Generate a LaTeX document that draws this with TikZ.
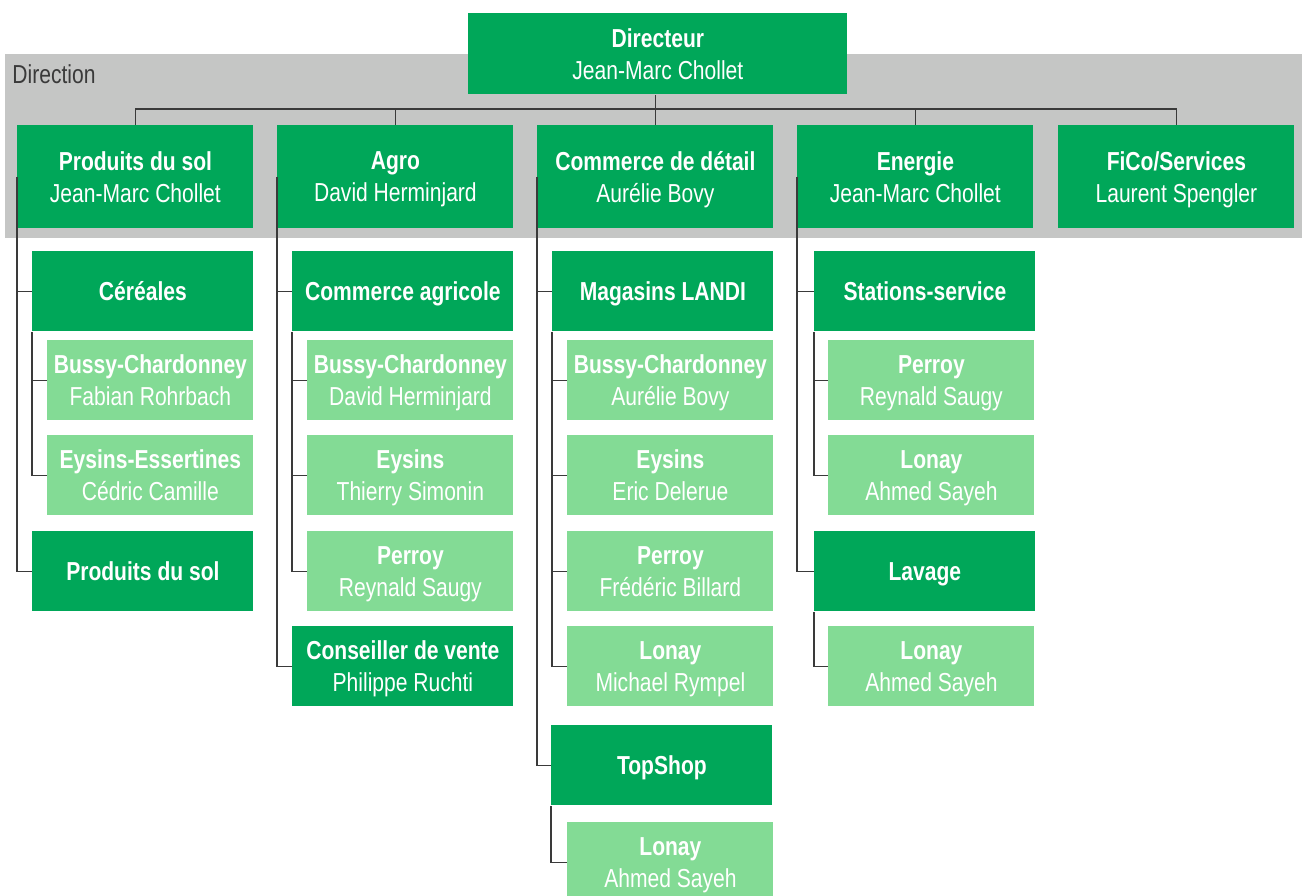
\documentclass[tikz,border=0pt]{standalone}
\usepackage{fontspec}
\setmainfont[FakeStretch=0.81]{Liberation Sans}
\usepackage{xcolor}
\definecolor{LandiGreen}{HTML}{00A759}
\definecolor{LandiLight}{HTML}{83DB95}
\definecolor{DirGray}{HTML}{C5C6C5}
\definecolor{LineGray}{HTML}{3A3A3A}
\usepackage{tikz}
\usetikzlibrary{positioning,calc}
\newcommand\orgtext[2]{\textbf{#1}\\#2}

\begin{document}
\begin{tikzpicture}[x=0.5pt,y=-0.5pt,
		orgbox/.style={fill=LandiGreen,text=white,inner sep=0,align=center,anchor=north west,text depth=0pt,font=\fontsize{13pt}{16pt}\selectfont},
		headbox/.style={orgbox,minimum width=118pt,minimum height=51.5pt},
		unitbox/.style={orgbox,minimum width=110.5pt,minimum height=40pt},
		sitebox/.style={orgbox,fill=LandiLight,minimum width=103pt,minimum height=40pt},
		link/.style={LineGray,line width=0.6pt}]
		
		\useasboundingbox (0,0) rectangle (1302,895);
		
		%% DIRECTION BAND
		\fill[DirGray] (5,54) rectangle (1302,238);
		\node[anchor=base west,inner sep=0,text=LineGray,font=\fontsize{13pt}{16pt}\selectfont] (dirlabel) at (12,83) {Direction};
		
		\node[orgbox,minimum width=189.5pt,minimum height=40.5pt] (dir) at (468,13) {\orgtext{Directeur}{Jean-Marc Chollet}};
		
		\node[headbox] (sol) at (17,125) {\orgtext{Produits du sol}{Jean-Marc Chollet}};
		\node[headbox] (agro) at (277,125) {\orgtext{Agro}{David Herminjard}};
		\node[headbox] (cdd) at (537,125) {\orgtext{Commerce de détail}{Aurélie Bovy}};
		\node[headbox] (energie) at (797,125) {\orgtext{Energie}{Jean-Marc Chollet}};
		\node[headbox] (fico) at (1058,125) {\orgtext{FiCo/Services}{Laurent Spengler}};
		
		\coordinate (bus) at (0,109);
		\draw[link] (dir.south -| cdd.north) -- (cdd.north);
		\foreach \dep in {sol,agro,cdd,energie,fico}{
			\draw[link] (cdd.north |- bus) -| (\dep.north);
		}
		
		%% PRODUITS DU SOL
		\node[unitbox] (cereales) at (32,251) {\textbf{Céréales}};
		\node[sitebox] (cerbussy) at (47,340) {\orgtext{Bussy-Chardonney}{Fabian Rohrbach}};
		\node[sitebox] (cereysins) at (47,435) {\orgtext{Eysins-Essertines}{Cédric Camille}};
		\node[unitbox] (solprod) at (32,531) {\textbf{Produits du sol}};
		
		\foreach \grp in {cereales,solprod}
			\draw[link] (sol.west) |- (\grp.west);
		\foreach \site in {cerbussy,cereysins}
			\draw[link] (cereales.south west) |- (\site.west);
		
		%% AGRO
		\node[unitbox] (comagri) at (292,251) {\textbf{Commerce agricole}};
		\node[sitebox] (agribussy) at (307,340) {\orgtext{Bussy-Chardonney}{David Herminjard}};
		\node[sitebox] (agrieysins) at (307,435) {\orgtext{Eysins}{Thierry Simonin}};
		\node[sitebox] (agriperroy) at (307,531) {\orgtext{Perroy}{Reynald Saugy}};
		\node[unitbox] (conseil) at (292,626) {\orgtext{Conseiller de vente}{Philippe Ruchti}};
		
		\foreach \grp in {comagri,conseil}
			\draw[link] (agro.west) |- (\grp.west);
		\foreach \site in {agribussy,agrieysins,agriperroy}
			\draw[link] (comagri.south west) |- (\site.west);
		
		%% COMMERCE DE DETAIL
		\node[unitbox] (landi) at (552,251) {\textbf{Magasins LANDI}};
		\node[sitebox] (landibussy) at (567,340) {\orgtext{Bussy-Chardonney}{Aurélie Bovy}};
		\node[sitebox] (landieysins) at (567,435) {\orgtext{Eysins}{Eric Delerue}};
		\node[sitebox] (landiperroy) at (567,531) {\orgtext{Perroy}{Frédéric Billard}};
		\node[sitebox] (landilonay) at (567,626) {\orgtext{Lonay}{Michael Rympel}};
		\node[unitbox] (topshop) at (551,725) {\textbf{TopShop}};
		\node[sitebox] (toplonay) at (567,822) {\orgtext{Lonay}{Ahmed Sayeh}};
		
		\foreach \grp in {landi,topshop}
			\draw[link] (cdd.west) |- (\grp.west);
		\foreach \site in {landibussy,landieysins,landiperroy,landilonay}
			\draw[link] (landi.south west) |- (\site.west);
		\draw[link] (topshop.south west) |- (toplonay.west);
		
		%% ENERGIE
		\node[unitbox] (stations) at (814,251) {\textbf{Stations-service}};
		\node[sitebox] (staperroy) at (828,340) {\orgtext{Perroy}{Reynald Saugy}};
		\node[sitebox] (stalonay) at (828,435) {\orgtext{Lonay}{Ahmed Sayeh}};
		\node[unitbox] (lavage) at (814,531) {\textbf{Lavage}};
		\node[sitebox] (lavlonay) at (828,626) {\orgtext{Lonay}{Ahmed Sayeh}};
		
		\foreach \grp in {stations,lavage}
			\draw[link] (energie.west) |- (\grp.west);
		\foreach \site in {staperroy,stalonay}
			\draw[link] (stations.south west) |- (\site.west);
		\draw[link] (lavage.south west) |- (lavlonay.west);
		
	\end{tikzpicture}
\end{document}
